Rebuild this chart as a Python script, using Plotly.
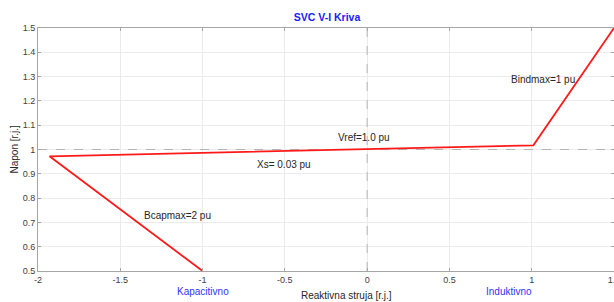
import plotly.graph_objects as go

# Data
current = [-1.0, -1.93, 1.01, 1.5]
voltage = [0.5, 0.972, 1.017, 1.5]

x_ticks = [-2, -1.5, -1, -0.5, 0, 0.5, 1, 1.5]
x_ticktext = ["-2", "-1.5", "-1", "-0.5", "0", "0.5", "1", "1.5"]
y_ticks = [0.5, 0.6, 0.7, 0.8, 0.9, 1.0, 1.1, 1.2, 1.3, 1.4, 1.5]
y_ticktext = ["0.5", "0.6", "0.7", "0.8", "0.9", "1", "1.1", "1.2", "1.3", "1.4", "1.5"]

labels = ["Bindmax=1 pu", "Vref=1.0 pu", "Xs= 0.03 pu", "Bcapmax=2 pu"]
label_x = [0.86, -0.19, -0.68, -1.37]
label_y = [1.29, 1.05, 0.938, 0.73]

W, H = 614, 302
L, R, T, B = 38, 0, 28, 31

fig = go.Figure()
# reference dashed lines
fig.add_trace(go.Scatter(x=[0, 0], y=[0.5, 1.5], mode="lines",
                         line=dict(color="#b4b4b4", width=1, dash="dash"),
                         hoverinfo="skip", showlegend=False))
fig.add_trace(go.Scatter(x=[-2, 1.5], y=[1, 1], mode="lines",
                         line=dict(color="#b4b4b4", width=1, dash="dash"),
                         hoverinfo="skip", showlegend=False))
fig.add_trace(go.Scatter(x=current, y=voltage, mode="lines",
                         line=dict(color="#ff1a1a", width=1.8),
                         showlegend=False))

ann = []
for t, ax, ay in zip(labels, label_x, label_y):
    ann.append(dict(x=ax, y=ay, xref="x", yref="y", text=t, showarrow=False,
                    xanchor="left", yanchor="middle",
                    font=dict(family="Arial, Liberation Sans", size=10, color="#262626")))
ann.append(dict(x=-1, y=-0.086, xref="x", yref="paper", text="Kapacitivno", showarrow=False,
                xanchor="center", yanchor="middle",
                font=dict(family="Arial, Liberation Sans", size=10, color="#3333ff")))
ann.append(dict(x=0.86, y=-0.086, xref="x", yref="paper", text="Induktivno", showarrow=False,
                xanchor="center", yanchor="middle",
                font=dict(family="Arial, Liberation Sans", size=10, color="#3333ff")))
ann.append(dict(x=(346 - L) / (W - L - R), y=(271 - 295) / (H - T - B), xref="paper", yref="paper",
                text="Reaktivna struja [r.j.]", showarrow=False,
                xanchor="center", yanchor="middle",
                font=dict(family="Arial, Liberation Sans", size=10, color="#262626")))
ann.append(dict(x=(14 - L) / (W - L - R), y=0.5, xref="paper", yref="paper",
                text="Napon [r.j.]", showarrow=False, textangle=-90,
                xanchor="center", yanchor="middle",
                font=dict(family="Arial, Liberation Sans", size=10, color="#262626")))

axis_common = dict(showgrid=True, gridcolor="#ebebeb", gridwidth=1,
                   showline=True, linecolor="#a6a6a6", linewidth=1, mirror="ticks",
                   ticks="inside", ticklen=3, tickcolor="#a6a6a6",
                   tickfont=dict(family="Arial, Liberation Sans", size=9, color="#404040"),
                   zeroline=False, automargin=False, ticklabeloverflow="allow")

fig.update_layout(
    width=W, height=H,
    margin=dict(l=L, r=R, t=T, b=B),
    paper_bgcolor="white", plot_bgcolor="white",
    title=dict(text="<b>SVC V-I Kriva</b>", x=327 / W, y=1 - 17 / H,
               xanchor="center", yanchor="middle",
               font=dict(family="Arial, Liberation Sans", size=10.5, color="#1a1aff")),
    xaxis=dict(range=[-2, 1.5], tickvals=x_ticks, ticktext=x_ticktext, **axis_common),
    yaxis=dict(range=[0.5, 1.5], tickvals=y_ticks, ticktext=y_ticktext, **axis_common),
    annotations=ann,
    showlegend=False,
)

fig.write_html("out.html", config={"displayModeBar": False},
               post_script="document.body.style.margin='0';document.body.style.overflow='hidden';")
